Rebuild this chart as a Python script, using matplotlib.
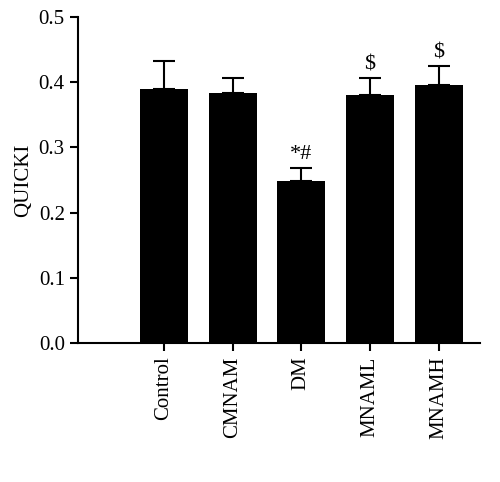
import matplotlib.pyplot as plt

plt.rcParams['font.family'] = ['Liberation Serif', 'DejaVu Serif']

groups = ["Control", "CMNAM", "DM", "MNAML", "MNAMH"]
quicki = [0.390, 0.383, 0.248, 0.380, 0.395]
sem = [0.043, 0.023, 0.021, 0.026, 0.030]
marks = ["", "", "*#", "$", "$"]

fig = plt.figure(figsize=(5, 4.82), dpi=100)
ax = fig.add_axes([0.156, 0.288, 0.804, 0.677])

x = range(len(groups))
ax.bar(x, quicki, width=0.7, color="black",
       yerr=[[0] * len(sem), sem], error_kw=dict(ecolor="black", elinewidth=1.5, capsize=8, capthick=1.5))
for i, m in enumerate(marks):
    if m:
        ax.text(i, quicki[i] + sem[i] + 0.005, m, ha="center", va="bottom", fontsize=16)

ax.set_xlim(-1.25, 4.6)
ax.set_ylim(0, 0.5)
ax.set_yticks([0, 0.1, 0.2, 0.3, 0.4, 0.5])
ax.set_yticklabels(["0.0", "0.1", "0.2", "0.3", "0.4", "0.5"])
ax.set_xticks(list(x))
ax.set_xticklabels(groups, rotation=90)
ax.set_ylabel("QUICKI", fontsize=15)
ax.tick_params(labelsize=15, width=1.5, length=6)
for s in ["top", "right"]:
    ax.spines[s].set_visible(False)
for s in ["left", "bottom"]:
    ax.spines[s].set_linewidth(1.5)

fig.savefig("out.png")
